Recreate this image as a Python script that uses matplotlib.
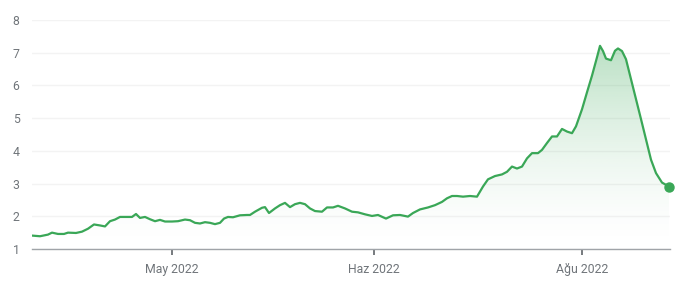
import numpy as np
import matplotlib.pyplot as plt
from matplotlib.patches import Polygon

plt.rcParams['font.family'] = ['Roboto', 'DejaVu Sans']

# x = position along the time axis (sample index), y = value
x = [0, 8, 16, 20, 26, 32, 36, 44, 50, 56, 62, 68, 73, 78, 83, 88, 94, 100,
     104, 108, 113, 118, 123, 128, 133, 140, 146, 153, 158, 163, 168, 173,
     178, 183, 188, 192, 196, 201, 208, 215, 218, 223, 230, 233, 237, 243,
     248, 253, 258, 263, 268, 273, 278, 283, 290, 295, 301, 306, 313, 320,
     326, 333, 340, 346, 354, 361, 368, 376, 381, 388, 396, 403, 410, 415,
     420, 425, 431, 438, 445, 451, 456, 463, 470, 475, 480, 485, 490, 495,
     500, 506, 510, 515, 520, 525, 530, 535, 540, 544, 550, 555, 560, 565,
     568, 571, 574, 579, 583, 586, 590, 594, 599, 604, 609, 614, 619, 624,
     630, 637]
y = [1.41, 1.39, 1.44, 1.50, 1.46, 1.46, 1.50, 1.49, 1.53, 1.62, 1.75, 1.72,
     1.69, 1.85, 1.90, 1.98, 1.98, 1.98, 2.07, 1.95, 1.98, 1.91, 1.85, 1.89,
     1.84, 1.84, 1.85, 1.90, 1.88, 1.80, 1.78, 1.82, 1.80, 1.76, 1.80, 1.93,
     1.98, 1.97, 2.03, 2.04, 2.04, 2.14, 2.26, 2.28, 2.10, 2.24, 2.34, 2.41,
     2.28, 2.37, 2.41, 2.37, 2.24, 2.16, 2.14, 2.27, 2.27, 2.32, 2.24, 2.14,
     2.12, 2.06, 2.01, 2.04, 1.93, 2.03, 2.04, 1.99, 2.10, 2.21, 2.27, 2.34,
     2.44, 2.55, 2.62, 2.62, 2.60, 2.62, 2.60, 2.91, 3.13, 3.23, 3.28, 3.36,
     3.52, 3.46, 3.52, 3.77, 3.93, 3.93, 4.03, 4.24, 4.44, 4.44, 4.67, 4.59,
     4.54, 4.75, 5.27, 5.79, 6.30, 6.86, 7.21, 7.05, 6.82, 6.77, 7.06, 7.13,
     7.05, 6.80, 6.19, 5.58, 4.97, 4.35, 3.73, 3.32, 3.03, 2.91]

tick_pos = [140, 342, 550]
tick_labels = ["May 2022", "Haz 2022", "Ağu 2022"]
yticks = [1, 2, 3, 4, 5, 6, 7, 8]

green = "#3aa757"
txt = "#70757a"

fig = plt.figure(figsize=(6.9, 2.89), dpi=100)
ax = fig.add_axes([32/690, 40/289, 638/690, 229/289])

ax.set_xlim(0, 638)
ax.set_ylim(1, 8)

# gradient fill under the line, fading out towards the bottom
grad = np.zeros((256, 2, 4))
grad[..., 0] = 0x3a / 255
grad[..., 1] = 0xa7 / 255
grad[..., 2] = 0x57 / 255
grad[..., 3] = (0.36 * np.linspace(1, 0, 256) ** 1.6)[:, None]
poly = Polygon(list(zip(x, y)) + [(x[-1], 1), (x[0], 1)], closed=True,
               facecolor="none", edgecolor="none")
ax.add_patch(poly)
im = ax.imshow(grad, extent=[0, 638, 1, 7.3], aspect="auto", origin="upper",
               zorder=1)
im.set_clip_path(poly)

ax.plot(x, y, color=green, lw=1.6, solid_joinstyle="round", zorder=3)
ax.plot(x[-1], y[-1], "o", color=green, ms=6.5, zorder=4, clip_on=False)

ax.set_yticks(yticks)
ax.grid(axis="y", color="#f3f3f3", lw=1)
ax.set_axisbelow(True)
ax.tick_params(axis="y", length=0, pad=9, labelsize=8.8, labelcolor=txt)

ax.set_xticks(tick_pos)
ax.set_xticklabels(tick_labels)
ax.tick_params(axis="x", length=4, width=1.2, color="#5f6368", pad=6,
               labelsize=8.8, labelcolor=txt)

for s in ["top", "right", "left"]:
    ax.spines[s].set_visible(False)
ax.spines["bottom"].set_color("#a0a4a8")
ax.spines["bottom"].set_linewidth(1)

fig.savefig("out.png", dpi=100)
